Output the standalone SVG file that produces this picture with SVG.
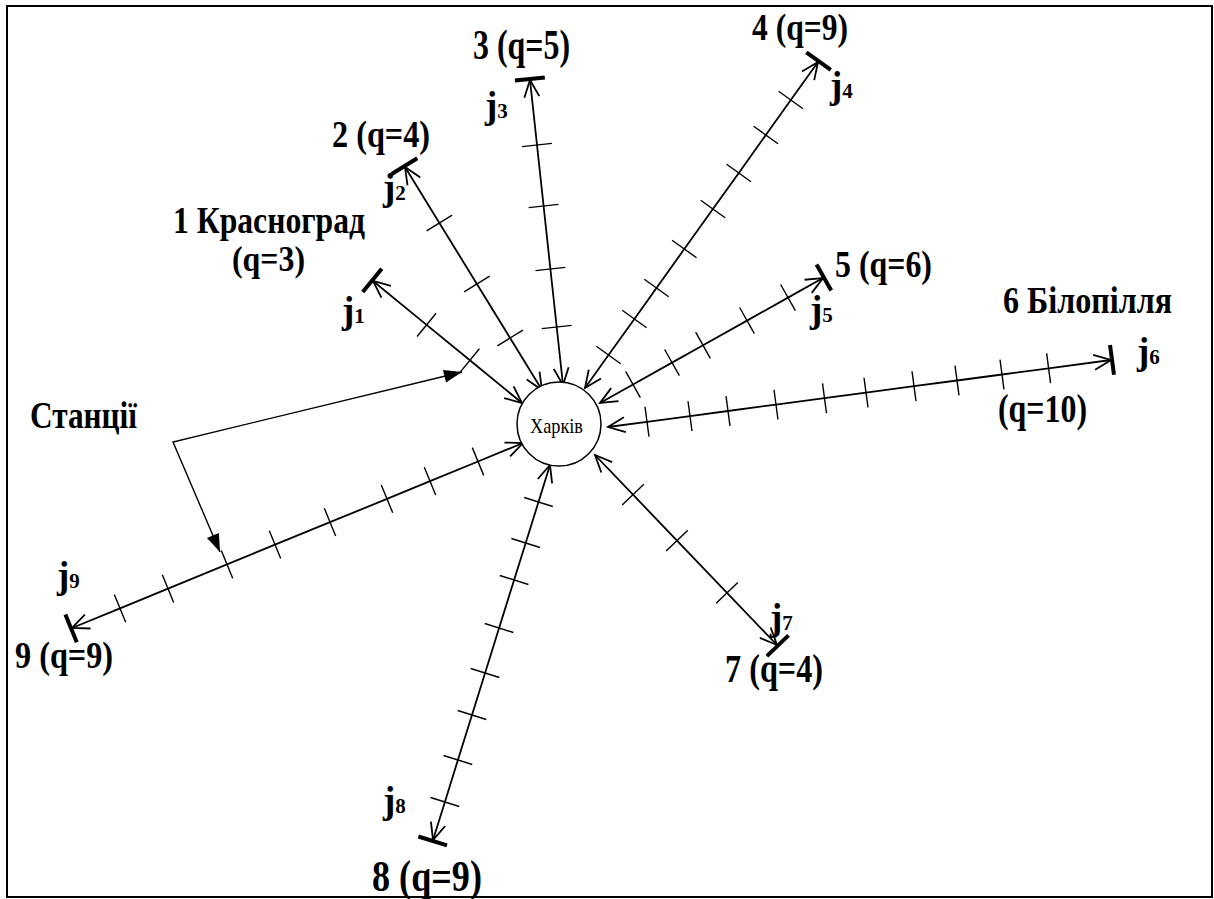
<svg xmlns="http://www.w3.org/2000/svg" width="1214" height="899" viewBox="0 0 1214 899">
<style>
.lbl{font-family:"Liberation Serif","Times New Roman",serif;font-weight:bold;fill:#000}
.jj{font-family:"Liberation Serif","Times New Roman",serif;font-weight:bold;font-size:37px;fill:#000}
.jj tspan{font-size:21px}
.route{fill:none;stroke:#000;stroke-width:1.8;marker-start:url(#endBar);marker-mid:url(#tick);marker-end:url(#arrow)}
.ptr{fill:none;stroke:#000;stroke-width:1.4;marker-start:url(#solid);marker-end:url(#solid)}
</style>
<defs>
<marker id="arrow" markerUnits="userSpaceOnUse" orient="auto" markerWidth="40" markerHeight="40" refX="0" refY="0" viewBox="-20 -20 40 40" overflow="visible">
<path d="M-17,-7.5 L0,0 L-17,7.5" fill="none" stroke="#000" stroke-width="1.8"/>
</marker>
<marker id="endBar" markerUnits="userSpaceOnUse" orient="auto-start-reverse" markerWidth="40" markerHeight="40" refX="0" refY="0" viewBox="-20 -20 40 40" overflow="visible">
<path d="M-17,-7.5 L0,0 L-17,7.5" fill="none" stroke="#000" stroke-width="1.8"/>
<path d="M1,-15 L1,15" fill="none" stroke="#000" stroke-width="4"/>
</marker>
<marker id="tick" markerUnits="userSpaceOnUse" orient="auto" markerWidth="40" markerHeight="40" refX="0" refY="0" viewBox="-20 -20 40 40" overflow="visible">
<path d="M0,-15 L0,15" fill="none" stroke="#000" stroke-width="1.4"/>
</marker>
<marker id="solid" markerUnits="userSpaceOnUse" orient="auto-start-reverse" markerWidth="40" markerHeight="40" refX="0" refY="0" viewBox="-20 -20 40 40" overflow="visible">
<path d="M-18,-6.5 L0,0 L-18,6.5 Z" fill="#000" stroke="none"/>
</marker>
</defs>
<rect x="0" y="0" width="1214" height="899" fill="#fff"/>
<rect x="7" y="6" width="1205" height="891" fill="none" stroke="#000" stroke-width="2"/>

<g id="connectors">
<polyline class="route" points="373,281 426.6,324.9 469.9,360.3 522,403"/>
<polyline class="route" points="405,167 439.4,223 476.9,284 510.1,338 542,390"/>
<polyline class="route" points="530,80 537,145 543.6,206 550.4,269 556.7,327 563,385"/>
<polyline class="route" points="818,62 790.8,100 765.8,135 738.8,173 712.9,209 684.3,249 656.5,288 634.4,319 608.5,355 585,388"/>
<polyline class="route" points="823,278 788,297.6 747,320.6 703,345.3 672,362.6 633,384.5 600,403"/>
<polyline class="route" points="1111,360 1048.6,368.3 1002,374.5 957,380.5 914,386.2 866,392.6 824.5,398.2 776,404.6 728,411 690,416.1 647,421.8 608,427"/>
<polyline class="route" points="777,645 727,592.8 677,540.6 633,494.7 595,455"/>
<polyline class="route" points="433,840 444.9,802 457.9,760 472,715 485.1,673 499.1,628 514.1,580 525.7,543 538.5,502 550,465"/>
<polyline class="route" points="72,628 120,608.3 168,588.6 227,564.4 275,544.7 330,522.2 387,498.9 430,481.1 478,461.5 523,443"/>
<polyline class="ptr" points="462,372 173,442 220,552"/>
</g>

<g id="kharkiv">
<circle cx="559" cy="424" r="42" fill="#fff" stroke="#000" stroke-width="1.5"/>
<text x="530" y="433" font-family="Liberation Serif, Times New Roman, serif" font-size="22" textLength="53" lengthAdjust="spacingAndGlyphs">Харків</text>
</g>

<g id="station1">
<text class="lbl" x="173" y="233" font-size="37" textLength="192" lengthAdjust="spacingAndGlyphs">1 Красноград</text>
<text class="lbl" x="232" y="271" font-size="36" textLength="73" lengthAdjust="spacingAndGlyphs">(q=3)</text>
<text class="jj" x="342" y="323">j<tspan>1</tspan></text>
</g>
<g id="station2">
<text class="lbl" x="332" y="147" font-size="37" textLength="98" lengthAdjust="spacingAndGlyphs">2 (q=4)</text>
<text class="jj" x="383" y="200">j<tspan>2</tspan></text>
</g>
<g id="station3">
<text class="lbl" x="473" y="59" font-size="42" textLength="97" lengthAdjust="spacingAndGlyphs">3 (q=5)</text>
<text class="jj" x="485" y="118">j<tspan>3</tspan></text>
</g>
<g id="station4">
<text class="lbl" x="752" y="40" font-size="38" textLength="96" lengthAdjust="spacingAndGlyphs">4 (q=9)</text>
<text class="jj" x="830" y="98">j<tspan>4</tspan></text>
</g>
<g id="station5">
<text class="lbl" x="835" y="277" font-size="37" textLength="97" lengthAdjust="spacingAndGlyphs">5 (q=6)</text>
<text class="jj" x="810" y="322">j<tspan>5</tspan></text>
</g>
<g id="station6">
<text class="lbl" x="1003" y="313" font-size="38" textLength="169" lengthAdjust="spacingAndGlyphs">6 Білопілля</text>
<text class="lbl" x="998" y="422" font-size="39" textLength="89" lengthAdjust="spacingAndGlyphs">(q=10)</text>
<text class="jj" x="1137" y="364">j<tspan>6</tspan></text>
</g>
<g id="station7">
<text class="lbl" x="725" y="682" font-size="39" textLength="98" lengthAdjust="spacingAndGlyphs">7 (q=4)</text>
<text class="jj" x="770" y="630">j<tspan>7</tspan></text>
</g>
<g id="station8">
<text class="lbl" x="372" y="891" font-size="44" textLength="110" lengthAdjust="spacingAndGlyphs">8 (q=9)</text>
<text class="jj" x="383" y="813">j<tspan>8</tspan></text>
</g>
<g id="station9">
<text class="lbl" x="15" y="668" font-size="37" textLength="98" lengthAdjust="spacingAndGlyphs">9 (q=9)</text>
<text class="jj" x="57" y="588">j<tspan>9</tspan></text>
</g>
<g id="stations-label">
<text class="lbl" x="30" y="428" font-size="37" textLength="107" lengthAdjust="spacingAndGlyphs">Станції</text>
</g>
</svg>
